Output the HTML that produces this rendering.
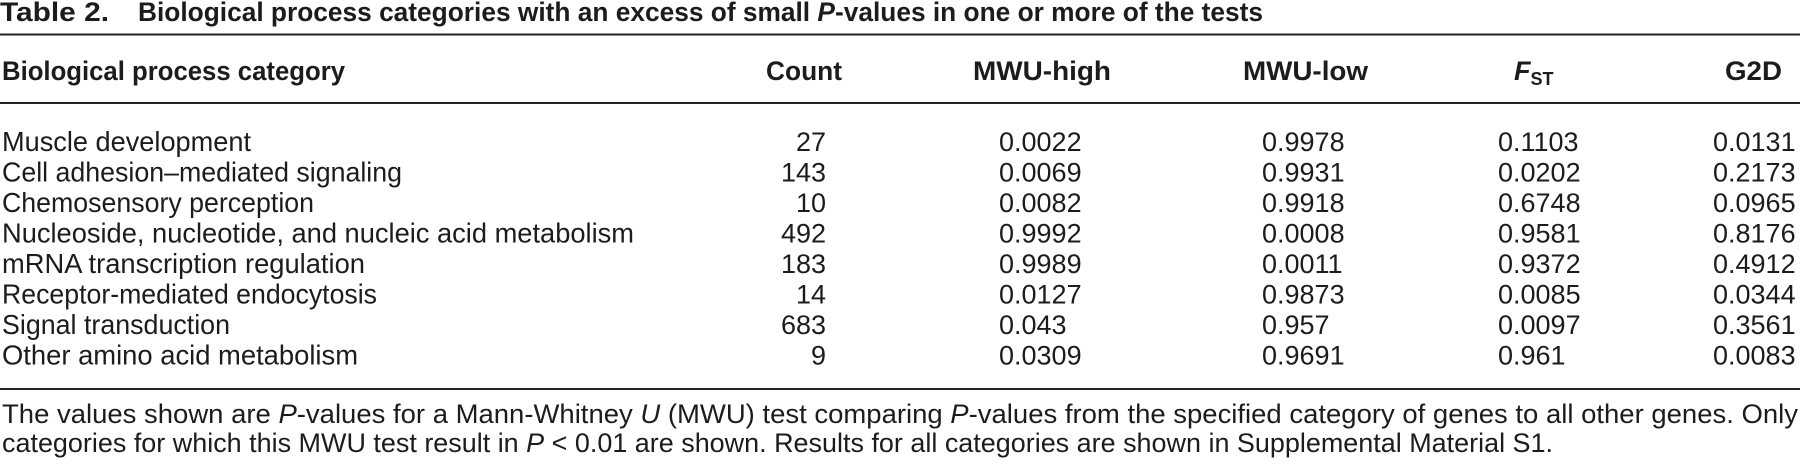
<!DOCTYPE html>
<html>
<head>
<meta charset="utf-8">
<style>
  html,body{margin:0;padding:0;background:#fff;}
  svg{display:block;}
  text{font-family:"Liberation Sans", Arial, sans-serif; fill:#1c1c1c;}
  .b{font-weight:bold;}
  .r{font-size:27.4px;}
</style>
</head>
<body>
<svg width="1800" height="471" viewBox="0 0 1800 471" xmlns="http://www.w3.org/2000/svg">
  <rect x="0" y="0" width="1800" height="471" fill="#fff"/>

  <!-- Title -->
  <text class="b" x="0" y="21" font-size="27" textLength="109" lengthAdjust="spacingAndGlyphs">Table 2.</text>
  <text class="b" x="138" y="21" font-size="27" textLength="1125" lengthAdjust="spacingAndGlyphs">Biological process categories with an excess of small <tspan font-style="italic">P</tspan>-values in one or more of the tests</text>

  <!-- Rules -->
  <rect x="0" y="33.5" width="1800" height="2" fill="#222"/>
  <rect x="0" y="102" width="1800" height="2" fill="#222"/>
  <rect x="0" y="388" width="1800" height="2" fill="#222"/>

  <!-- Header -->
  <text class="b" x="2" y="80" font-size="27" textLength="343" lengthAdjust="spacingAndGlyphs">Biological process category</text>
  <text class="b" x="766" y="80" font-size="27" textLength="76" lengthAdjust="spacingAndGlyphs">Count</text>
  <text class="b" x="973" y="80" font-size="27" textLength="138" lengthAdjust="spacingAndGlyphs">MWU-high</text>
  <text class="b" x="1243" y="80" font-size="27" textLength="125" lengthAdjust="spacingAndGlyphs">MWU-low</text>
  <text class="b" x="1514" y="80" font-size="27"><tspan font-style="italic">F</tspan><tspan font-size="18" dy="5">ST</tspan></text>
  <text class="b" x="1725" y="80" font-size="27" textLength="57" lengthAdjust="spacingAndGlyphs">G2D</text>

  <!-- Category names -->
  <text class="r" x="2" y="151" textLength="249" lengthAdjust="spacingAndGlyphs">Muscle development</text>
  <text class="r" x="2" y="181.5" textLength="400" lengthAdjust="spacingAndGlyphs">Cell adhesion–mediated signaling</text>
  <text class="r" x="2" y="212" textLength="312" lengthAdjust="spacingAndGlyphs">Chemosensory perception</text>
  <text class="r" x="2" y="242.5" textLength="632" lengthAdjust="spacingAndGlyphs">Nucleoside, nucleotide, and nucleic acid metabolism</text>
  <text class="r" x="2" y="273" textLength="363" lengthAdjust="spacingAndGlyphs">mRNA transcription regulation</text>
  <text class="r" x="2" y="303.5" textLength="375" lengthAdjust="spacingAndGlyphs">Receptor-mediated endocytosis</text>
  <text class="r" x="2" y="334" textLength="228" lengthAdjust="spacingAndGlyphs">Signal transduction</text>
  <text class="r" x="2" y="364.5" textLength="356" lengthAdjust="spacingAndGlyphs">Other amino acid metabolism</text>

  <!-- Count (right aligned) -->
  <g font-size="27" text-anchor="end">
    <text x="826" y="151">27</text>
    <text x="826" y="181.5">143</text>
    <text x="826" y="212">10</text>
    <text x="826" y="242.5">492</text>
    <text x="826" y="273">183</text>
    <text x="826" y="303.5">14</text>
    <text x="826" y="334">683</text>
    <text x="826" y="364.5">9</text>
  </g>

  <!-- MWU-high -->
  <g font-size="27">
    <text x="999" y="151">0.0022</text>
    <text x="999" y="181.5">0.0069</text>
    <text x="999" y="212">0.0082</text>
    <text x="999" y="242.5">0.9992</text>
    <text x="999" y="273">0.9989</text>
    <text x="999" y="303.5">0.0127</text>
    <text x="999" y="334">0.043</text>
    <text x="999" y="364.5">0.0309</text>
  </g>

  <!-- MWU-low -->
  <g font-size="27">
    <text x="1262" y="151">0.9978</text>
    <text x="1262" y="181.5">0.9931</text>
    <text x="1262" y="212">0.9918</text>
    <text x="1262" y="242.5">0.0008</text>
    <text x="1262" y="273">0.0011</text>
    <text x="1262" y="303.5">0.9873</text>
    <text x="1262" y="334">0.957</text>
    <text x="1262" y="364.5">0.9691</text>
  </g>

  <!-- FST -->
  <g font-size="27">
    <text x="1498" y="151">0.1103</text>
    <text x="1498" y="181.5">0.0202</text>
    <text x="1498" y="212">0.6748</text>
    <text x="1498" y="242.5">0.9581</text>
    <text x="1498" y="273">0.9372</text>
    <text x="1498" y="303.5">0.0085</text>
    <text x="1498" y="334">0.0097</text>
    <text x="1498" y="364.5">0.961</text>
  </g>

  <!-- G2D -->
  <g font-size="27">
    <text x="1713" y="151">0.0131</text>
    <text x="1713" y="181.5">0.2173</text>
    <text x="1713" y="212">0.0965</text>
    <text x="1713" y="242.5">0.8176</text>
    <text x="1713" y="273">0.4912</text>
    <text x="1713" y="303.5">0.0344</text>
    <text x="1713" y="334">0.3561</text>
    <text x="1713" y="364.5">0.0083</text>
  </g>

  <!-- Caption -->
  <text x="2" y="423" font-size="27" textLength="1796" lengthAdjust="spacingAndGlyphs">The values shown are <tspan font-style="italic">P</tspan>-values for a Mann-Whitney <tspan font-style="italic">U</tspan> (MWU) test comparing <tspan font-style="italic">P</tspan>-values from the specified category of genes to all other genes. Only</text>
  <text x="2" y="452" font-size="27" textLength="1551" lengthAdjust="spacingAndGlyphs">categories for which this MWU test result in <tspan font-style="italic">P</tspan> &lt; 0.01 are shown. Results for all categories are shown in Supplemental Material S1.</text>
</svg>
</body>
</html>
